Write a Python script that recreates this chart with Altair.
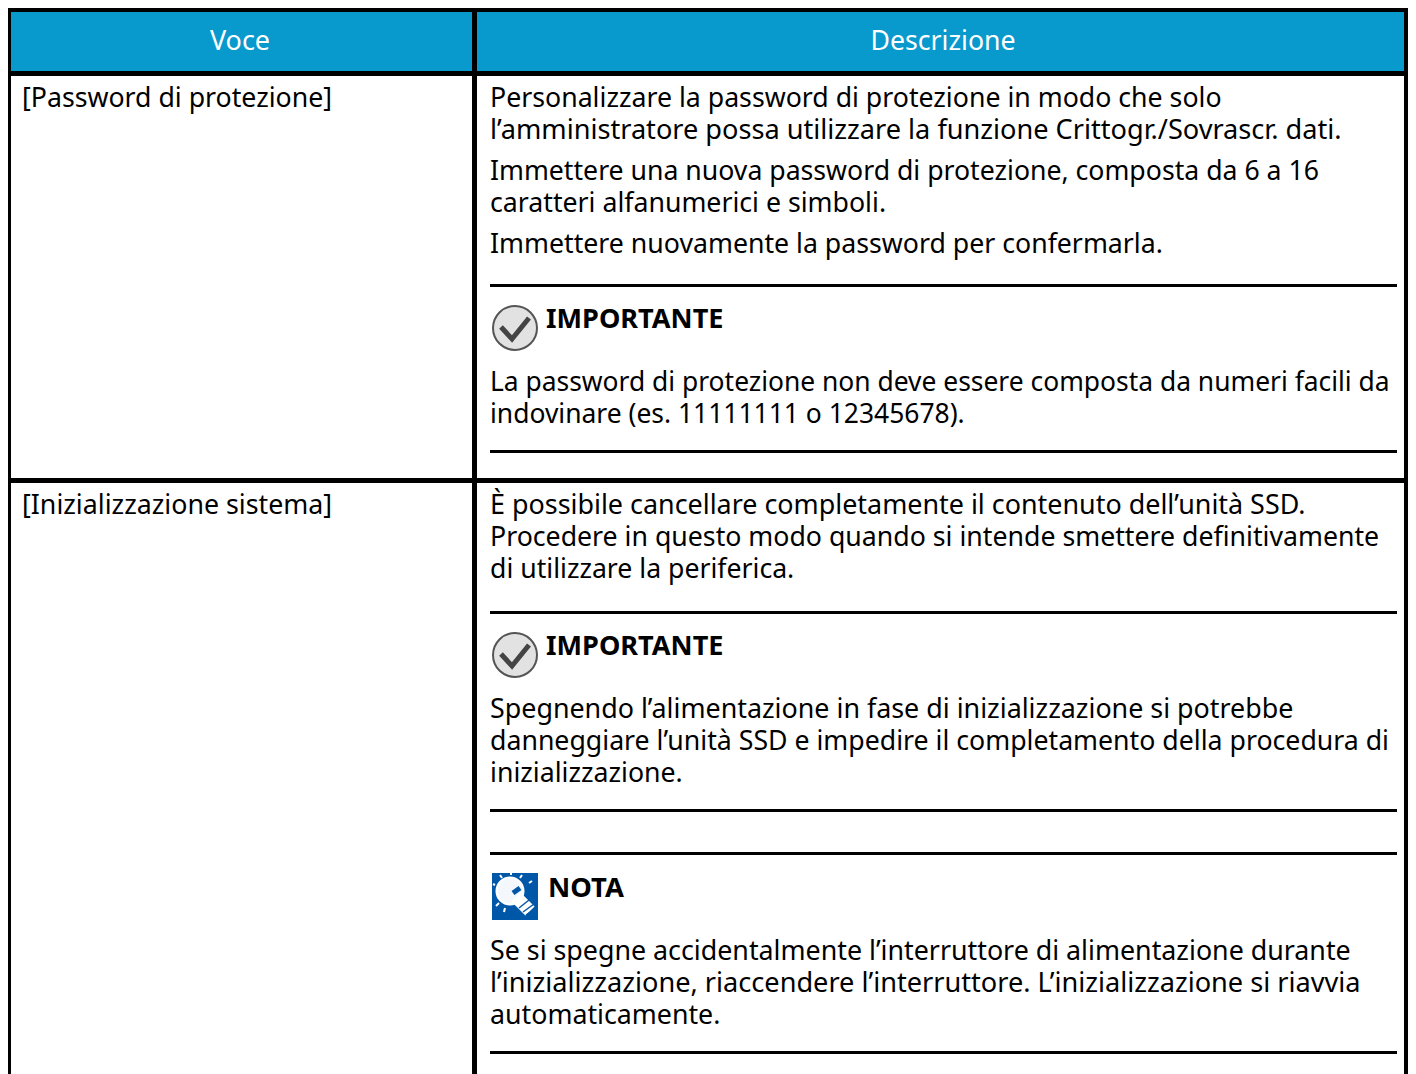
import altair as alt
import pandas as pd

# table text
header_labels = ["Voce", "Descrizione"]
header_sizes = [27, 26.7]
item_labels = ["[Password di protezione]", "[Inizializzazione sistema]"]
item_sizes = [26.7, 26.75]
body_lines = [
    "Personalizzare la password di protezione in modo che solo",
    "l’amministratore possa utilizzare la funzione Crittogr./Sovrascr. dati.",
    "Immettere una nuova password di protezione, composta da 6 a 16",
    "caratteri alfanumerici e simboli.",
    "Immettere nuovamente la password per confermarla.",
    "La password di protezione non deve essere composta da numeri facili da",
    "indovinare (es. 11111111 o 12345678).",
    "È possibile cancellare completamente il contenuto dell’unità SSD.",
    "Procedere in questo modo quando si intende smettere definitivamente",
    "di utilizzare la periferica.",
    "Spegnendo l’alimentazione in fase di inizializzazione si potrebbe",
    "danneggiare l’unità SSD e impedire il completamento della procedura di",
    "inizializzazione.",
    "Se si spegne accidentalmente l’interruttore di alimentazione durante",
    "l’inizializzazione, riaccendere l’interruttore. L’inizializzazione si riavvia",
    "automaticamente.",
]
body_rows = [107, 139, 180, 212, 253, 391, 423, 514, 546, 578, 718, 750, 782, 960, 992, 1024]
body_sizes = [26.7, 27.15, 26.65, 26.7, 26.7, 26.42, 26.45, 26.9, 26.7, 26.65, 26.85, 26.7, 26.7, 26.8, 27.15, 26.75]
item_rows = [107, 514]
note_labels = ["IMPORTANTE", "IMPORTANTE", "NOTA"]
note_rows = [328, 655, 897]
note_cols = [546, 546, 548]
note_sizes = [27.1, 27.1, 27.4]
separator_rows = [285, 451, 612, 810, 853, 1052]

PAGE_RIGHT = 1408
PAGE_BOTTOM = 1074

# table frame: left, right, top, bottom
frame = [
    (8, PAGE_RIGHT, 8, 12),
    (8, PAGE_RIGHT, 71, 76),
    (8, PAGE_RIGHT, 478, 483),
    (8, 11, 8, PAGE_BOTTOM),
    (472, 477, 8, PAGE_BOTTOM),
    (1404, PAGE_RIGHT, 8, PAGE_BOTTOM),
]
header_fill = (8, PAGE_RIGHT, 12, 71)

# icons
check_centres = [(515, 328), (515, 655)]
check_path = [(-14, -1), (-3, 11), (14, -10)]
bulb_box = (492, 538, 873, 920)
bulb_centre = (510, 891)
bulb_neck = [(516, 897), (530, 911)]
bulb_rays = [(495, 885, 493, 884), (500, 875, 502, 878), (511, 872, 511, 875),
             (522, 875, 520, 878), (532, 881, 529, 883), (496, 906, 499, 903), (504, 912, 505, 908)]
bulb_stripes = [(523, 912, 534, 904), (526, 915, 536, 908), (519, 908, 529, 900)]
bulb_filament = [(513, 893, 520, 888)]

X = alt.Scale(domain=[8, PAGE_RIGHT], range=[0, 1400], nice=False, zero=False)
Y = alt.Scale(domain=[8, PAGE_BOTTOM], range=[0, 1066], nice=False, zero=False)
FONT = "Noto Sans"
INK = "#000000"
BULB_BLUE = "#0057a8"


def xq(f="x"):
    return alt.X(f"{f}:Q", scale=X, axis=None)


def yq(f="y"):
    return alt.Y(f"{f}:Q", scale=Y, axis=None)


def rects(rows, color):
    df = pd.DataFrame(rows, columns=["x", "x2", "y", "y2"])
    return alt.Chart(df).mark_rect(color=color).encode(x=xq(), x2="x2:Q", y=yq(), y2="y2:Q")


def segs(rows, color, width):
    df = pd.DataFrame(rows, columns=["x", "y", "x2", "y2"])
    return alt.Chart(df).mark_rule(color=color, strokeWidth=width).encode(x=xq(), y=yq(), x2="x2:Q", y2="y2:Q")


def texts(labels, xs, ys, sizes, **kw):
    df = pd.DataFrame({"t": labels, "x": xs, "y": ys, "s": sizes})
    base = dict(font=FONT, color=INK, align="left", baseline="alphabetic")
    base.update(kw)
    return alt.Chart(df).mark_text(**base).encode(x=xq(), y=yq(), text="t:N", size=alt.Size("s:Q", scale=None))


layers = [
    rects([header_fill], "#0899cd"),
    rects(frame, "#000000"),
    rects([(490, 1397, y - 1, y + 2) for y in separator_rows], "#000000"),
    texts(header_labels, [240, 943], [50, 50], header_sizes, align="center", color="#ffffff"),
    texts(item_labels, [22, 22], item_rows, item_sizes),
    texts(body_lines, [490] * len(body_lines), body_rows, body_sizes),
    texts(note_labels, note_cols, note_rows, note_sizes, fontWeight="bold"),
]

# check icons
circles = pd.DataFrame(check_centres, columns=["x", "y"])
layers.append(alt.Chart(circles).mark_point(filled=False, fill="#e2e2e2", stroke="#555555",
                                            strokeWidth=2, size=1936, opacity=1).encode(x=xq(), y=yq()))
for cx, cy in check_centres:
    df = pd.DataFrame([(cx + dx, cy + dy, i) for i, (dx, dy) in enumerate(check_path)], columns=["x", "y", "o"])
    layers.append(alt.Chart(df).mark_line(color="#444444", strokeWidth=5).encode(x=xq(), y=yq(), order="o:Q"))

# bulb icon
layers.append(rects([bulb_box], BULB_BLUE))
layers.append(alt.Chart(pd.DataFrame([bulb_centre], columns=["x", "y"])).mark_point(
    filled=True, fill="#f4f8fc", stroke="#ffffff", strokeWidth=2, size=730, opacity=1).encode(x=xq(), y=yq()))
layers.append(segs(bulb_rays, "#ffffff", 2))
layers.append(segs([(*bulb_neck[0], *bulb_neck[1])], "#ffffff", 13))
layers.append(segs(bulb_stripes, BULB_BLUE, 1.5))
layers.append(segs(bulb_filament, BULB_BLUE, 5))

chart = alt.layer(*layers).properties(
    width=1400, height=1066, padding=0, autosize=alt.AutoSizeParams(type="none"), background="#ffffff"
).configure_view(stroke=None)

chart.save("out.html", embed_options={"renderer": "svg", "actions": False})
